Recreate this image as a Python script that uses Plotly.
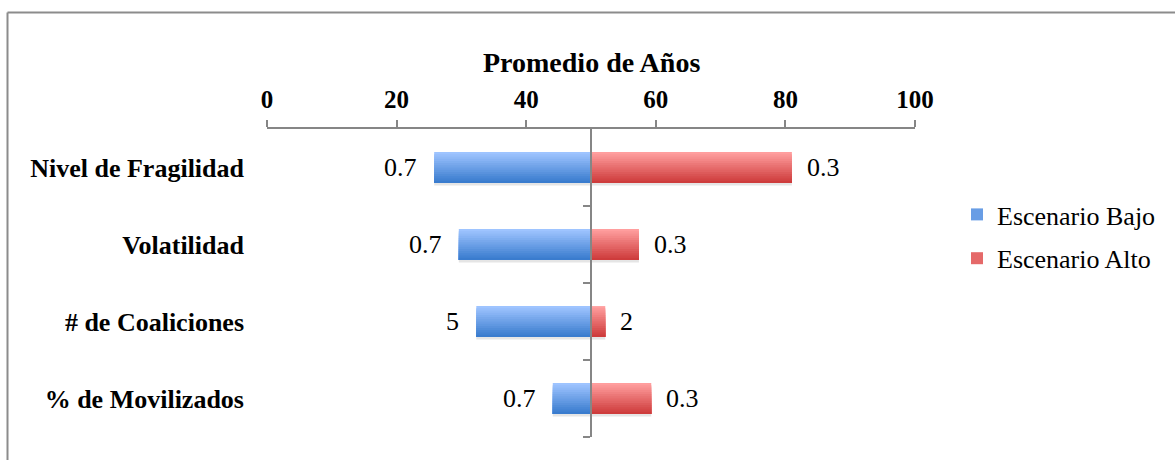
import plotly.graph_objects as go

categories = ["Nivel de Fragilidad", "Volatilidad", "# de Coaliciones", "% de Movilizados"]
bajo_vals = [25.8, 29.6, 32.3, 44.1]
alto_vals = [81.0, 57.4, 52.2, 59.3]
bajo_labels = ["0.7", "0.7", "5", "0.7"]
alto_labels = ["0.3", "0.3", "2", "0.3"]
base_value = 50
x_ticks = [0, 20, 40, 60, 80, 100]

FONT = "Liberation Serif, Times New Roman, serif"
W, H = 1175, 460
L, R, T, B = 267, 260, 129, 23
AXIS_GRAY = "#868686"


def lerp(c1, c2, t):
    return "rgb(%d,%d,%d)" % tuple(round(a + (b - a) * t) for a, b in zip(c1, c2))


blue_top, blue_bot = (158, 196, 255), (58, 124, 206)
red_top, red_bot = (255, 158, 158), (206, 60, 60)

fig = go.Figure()

bar_w = 0.4
n = 14
strip = bar_w / n

# faint shadow
for vals in (bajo_vals, alto_vals):
    fig.add_trace(go.Bar(
        y=categories, x=[v - base_value for v in vals], base=base_value,
        orientation="h", width=bar_w, offset=-bar_w / 2 + 0.035,
        marker=dict(color="rgba(0,0,0,0.10)", line=dict(width=0)),
        showlegend=False, hoverinfo="skip"))

for name, vals, c1, c2 in (("Escenario Bajo", bajo_vals, blue_top, blue_bot),
                           ("Escenario Alto", alto_vals, red_top, red_bot)):
    for i in range(n):
        t = i / (n - 1)
        fig.add_trace(go.Bar(
            y=categories, x=[v - base_value for v in vals], base=base_value,
            orientation="h", width=bar_w - i * strip, offset=-bar_w / 2 + i * strip,
            marker=dict(color=lerp(c1, c2, t), line=dict(width=0)),
            name=name, legendgroup=name, showlegend=(i == n // 2),
            hoverinfo="skip"))

# dummy trace to hold the centre axis
fig.add_trace(go.Scatter(x=[base_value], y=[0], yaxis="y2", mode="markers",
                         marker=dict(opacity=0), showlegend=False, hoverinfo="skip"))

annotations = []
for cat, v, lab in zip(categories, bajo_vals, bajo_labels):
    annotations.append(dict(x=v, y=cat, xref="x", yref="y", text=lab, showarrow=False,
                            xanchor="right", yanchor="middle", xshift=-15,
                            font=dict(family=FONT, size=26, color="black")))
for cat, v, lab in zip(categories, alto_vals, alto_labels):
    annotations.append(dict(x=v, y=cat, xref="x", yref="y", text=lab, showarrow=False,
                            xanchor="left", yanchor="middle", xshift=13,
                            font=dict(family=FONT, size=26, color="black")))
annotations.append(dict(x=0.5, y=(H - B - 62) / (H - T - B), xref="paper", yref="paper",
                        text="Promedio de Años", showarrow=False, xanchor="center",
                        yanchor="middle",
                        font=dict(family=FONT, size=28, color="black", weight="bold")))

pw, ph = W - L - R, H - T - B
xl = (7.5 - L) / pw
yt = (H - B - 12.5) / ph
shapes = [
    dict(type="line", xref="paper", yref="paper", x0=xl, y0=yt, x1=(W + 10 - L) / pw, y1=yt,
         line=dict(color="#8c8c8c", width=2)),
    dict(type="line", xref="paper", yref="paper", x0=xl, y0=yt, x1=xl, y1=-(B + 10) / ph,
         line=dict(color="#8c8c8c", width=2)),
]

fig.update_layout(
    width=W, height=H,
    margin=dict(l=L, r=R, t=T, b=B, pad=0),
    paper_bgcolor="white", plot_bgcolor="white",
    barmode="overlay",
    font=dict(family=FONT, color="black"),
    xaxis=dict(range=[0, 100], side="top", tickvals=x_ticks, ticks="outside", ticklen=7,
               tickwidth=2, tickcolor=AXIS_GRAY, showline=True, linecolor=AXIS_GRAY,
               linewidth=2, showgrid=False, zeroline=False, ticklabelstandoff=2,
               tickfont=dict(family=FONT, size=25, color="black", weight="bold")),
    yaxis=dict(type="category", categoryorder="array", categoryarray=categories,
               range=[3.5, -0.5], showline=False, ticks="", showgrid=False,
               zeroline=False, ticklabelstandoff=22,
               tickfont=dict(family=FONT, size=26, color="black", weight="bold")),
    yaxis2=dict(overlaying="y", anchor="free", position=0.5, side="left",
                range=[3.5, -0.5], tickvals=[0.5, 1.5, 2.5, 3.5], ticks="outside",
                ticklen=7, tickwidth=2, tickcolor=AXIS_GRAY, showline=True,
                linecolor=AXIS_GRAY, linewidth=2, showticklabels=False,
                showgrid=False, zeroline=False),
    legend=dict(x=(957 - L) / pw, y=(H - B - 191) / ph, xanchor="left", yanchor="top",
                font=dict(family=FONT, size=26, color="black"), tracegroupgap=7,
                traceorder="grouped", bgcolor="rgba(0,0,0,0)"),
    annotations=annotations,
    shapes=shapes,
)

fig.write_html("out.html")
